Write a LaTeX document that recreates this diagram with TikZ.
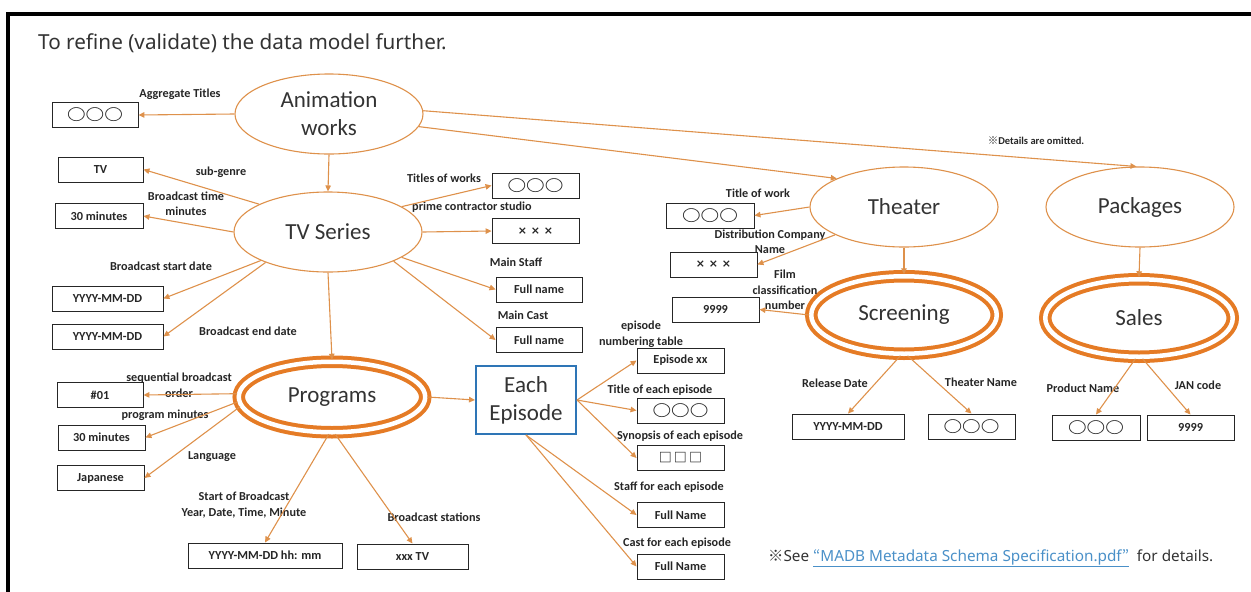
\documentclass[tikz,border=0pt]{standalone}
\usepackage{fontspec}
\setmainfont{Carlito}
\newfontfamily\jpfont{Noto Sans CJK JP}
\newfontfamily\ringfont[FakeStretch=1.2]{Noto Sans CJK JP}
\newfontfamily\uifont{Noto Sans}
\newfontfamily\symfont{DejaVu Sans}
\usepackage{tikz}
\usetikzlibrary{positioning, shapes.geometric, arrows.meta, calc}
\usepackage{xcolor}

\definecolor{lineorange}{HTML}{DE914B}
\definecolor{ringorange}{HTML}{E57B25}
\definecolor{epblue}{HTML}{2E75B6}
\definecolor{inkgray}{HTML}{333333}
\definecolor{linkblue}{HTML}{4A90C8}

\newcommand{\ooo}{{\ringfont\fontsize{15.5}{16}\selectfont ○○○}}
\newcommand{\xxx}{{\symfont\fontsize{11}{11}\selectfont × × ×}}
\newcommand{\sqs}{{\jpfont\fontsize{13}{14}\selectfont □\,□\,□}}

\tikzset{
    entity/.style={ellipse, draw=lineorange, line width=1.1pt, inner sep=0pt,
        minimum width=188pt, minimum height=80pt, text=inkgray, align=center,
        font=\fontsize{23}{28}\selectfont},
    keyentity/.style={ellipse, draw=ringorange, line width=4pt, double=white,
        double distance=4.5pt, inner sep=0pt, text=inkgray,
        font=\fontsize{23}{28}\selectfont},
    valbox/.style={draw=black!85, line width=0.9pt, minimum height=25pt,
        inner sep=0pt, text=black!85, font=\bfseries\fontsize{12.3}{14}\selectfont},
    attr/.style={inner sep=0pt, text=black!85, align=center,
        font=\bfseries\fontsize{12.2}{15.5}\selectfont},
    link/.style={draw=lineorange, line width=1.1pt,
        -{Triangle[length=6pt, width=5.5pt]}},
}

\begin{document}
\begin{tikzpicture}[x=1pt, y=-1pt]
    \useasboundingbox (0,0) rectangle (1251,592);

    % Frame
    \draw[line width=3.5pt] (1251,14) -- (8,14) -- (8,592);

    % Title
    \node[anchor=west, inner sep=0pt, text=inkgray, font=\uifont\fontsize{20.7}{22}\selectfont]
        (title) at (38,43) {To refine (validate) the data model further.};

    % Entities
    \node[entity] (anim) at (329,114) {Animation\\works};
    \node[entity] (tvs) at (328,232) {TV Series};
    \node[entity] (theater) at (904,207) {Theater};
    \node[entity] (pack) at (1140,207) {Packages};
    \node[keyentity, minimum width=186.5pt, minimum height=70.5pt] (prog) at (332,397) {Programs};
    \node[keyentity, minimum width=185.5pt, minimum height=77.5pt] (screen) at (904,315) {Screening};
    \node[keyentity, minimum width=187.5pt, minimum height=77.5pt] (sales) at (1139,318) {Sales};
    \node[draw=epblue, line width=2pt, minimum width=100pt, minimum height=68pt, inner sep=0pt,
        align=center, text=inkgray, font=\fontsize{23}{28}\selectfont] (ep) at (526,400) {Each\\Episode};

    % Value boxes
    \foreach \n/\x/\y/\w/\t in {
        bagg/95/115/86/\ooo, btv/100.5/169.5/85/TV, bbt/99/216/88/30 minutes,
        bbs/107.5/298.5/111/YYYY-MM-DD, bbe/107.5/336.5/111/YYYY-MM-DD,
        bseq/100/395/86/\#01, bpm/101.5/437.5/87/30 minutes, blang/100.5/478/87/Japanese,
        bstart/265/555.5/154/YYYY-MM-DD hh: mm, bstn/412.5/556.5/111/xxx TV,
        btw/535.5/185.5/87/\ooo, bpcs/535.5/231/87/\xxx,
        bstaff/539/289.5/86/Full name, bcast/539/340/86/Full name,
        bepn/680.5/360.5/87/Episode xx, bept/680.5/410.5/87/\ooo, bsyn/680.5/458/87/\sqs,
        beps/680.5/515/87/Full Name, bepc/680.5/566.5/87/Full Name,
        bthw/710/215.5/88/\ooo, bdist/713.5/264.5/87/\xxx, bfilm/715.5/309.5/87/9999,
        brel/848/426.5/112/YYYY-MM-DD, bthn/971.5/426.5/87/\ooo,
        bprod/1096/427.5/88/\ooo, bjan/1190.5/427.5/87/9999} {
        \node[valbox, minimum width=\w pt] (\n) at (\x,\y) {\t};
    }

    % Attribute names
    \foreach \n/\x/\y/\t in {
        lagg/180/94/Aggregate Titles, lgenre/221/172/sub-genre,
        lbt/186/204/Broadcast time\\minutes, lbs/161/266/Broadcast start date,
        lbe/248/331/Broadcast end date, lseq/179/385/sequential broadcast\\order,
        lpm/165/415/program minutes, llang/212/457/Language,
        lstart/244/505/{Start of Broadcast\\Year, Date, Time, Minute},
        lstn/434/517/Broadcast stations,
        ltw/444/178/Titles of works, lpcs/472/207/prime contractor studio,
        lstaff/516/262/Main Staff, lcast/523/315/Main Cast,
        lepn/641/334/episode\\numbering table, lept/660/390/Title of each episode,
        lsyn/680/436/Synopsis of each episode, leps/669/487/Staff for each episode,
        lepc/677/543/Cast for each episode,
        lthw/758/193/Title of work, ldist/770/242/Distribution Company\\Name,
        lfilm/785/290/Film\\classification\\number,
        lrel/835/383/Release Date, lthn/981/382/Theater Name,
        lprod/1083/388/Product Name, ljan/1198/385/JAN code} {
        \node[attr] (\n) at (\x,\y) {\t};
    }
    \node[attr, font=\bfseries\fontsize{10.5}{12}\selectfont] (omit) at (1036,141)
        {{\jpfont ※}Details are omitted.};

    % Connectors
    \foreach \a/\b in {
        anim.west/bagg.east, anim.south/tvs.north, anim.-8/theater.157, anim.2/pack.95,
        tvs.158/btv.east, tvs.west/bbt.east, tvs.203/bbs.east, tvs.206/bbe.east,
        tvs.19/btw.west, tvs.east/bpcs.west, tvs.-19/bstaff.west, tvs.-24/bcast.west,
        tvs.south/prog.north,
        prog.178/bseq.east, prog.183/bpm.east, prog.186/blang.east,
        prog.-95/bstart.north, prog.-85/bstn.north, prog.east/ep.west,
        ep.east/bepn.west, ep.east/bept.west, ep.east/bsyn.west,
        ep.south/beps.west, ep.south/bepc.west,
        theater.west/bthw.east, theater.202/bdist.east, theater.south/screen.north,
        screen.west/bfilm.east, screen.-95/brel.north, screen.-85/bthn.north,
        pack.south/sales.north, sales.-95/bprod.north, sales.-85/bjan.north} {
        \draw[link] (\a) -- (\b);
    }

    % Footer note
    \node[anchor=west, inner sep=0pt, text=inkgray, font=\uifont\fontsize{15.3}{17}\selectfont]
        (note) at (768,558) {{\jpfont ※}See \textcolor{linkblue}{\underline{{\jpfont “}MADB Metadata Schema Specification.pdf{\jpfont ”}}}\ \ for details.};
\end{tikzpicture}
\end{document}
